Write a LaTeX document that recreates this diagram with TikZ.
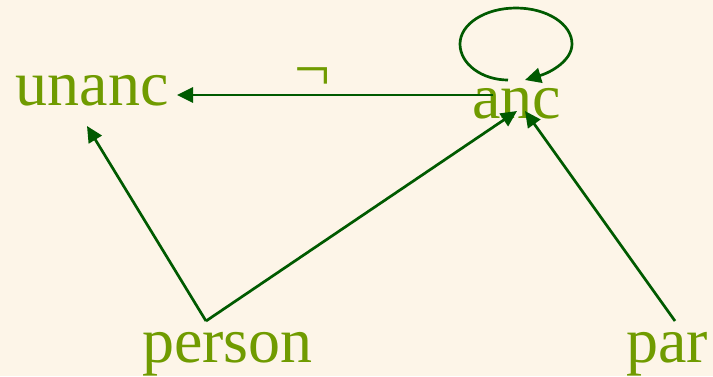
\documentclass[tikz,border=0pt]{standalone}
\usepackage{fontspec}
\setmainfont{Liberation Serif}
\usetikzlibrary{arrows.meta}
\definecolor{bgcol}{RGB}{253,245,232}
\definecolor{txtcol}{RGB}{112,155,0}
\definecolor{arrcol}{RGB}{0,90,0}
\tikzset{
  lbl/.style={inner sep=0pt, outer sep=0pt, anchor=base west, text=txtcol, font=\fontsize{64}{70}\selectfont},
  conn/.style={draw=arrcol, line width=2.7pt, -{Triangle[length=16pt,width=15pt]}},
}
\begin{document}
\begin{tikzpicture}[x=1pt,y=-1pt]
\fill[bgcol] (0,0) rectangle (713,376);
\useasboundingbox (0,0) rectangle (713,376);
\node[lbl] (unanc) at (16,105) {unanc};
\node[lbl] (anc) at (472,118) {anc};
\node[lbl] (person) at (142,362) {person};
\node[lbl] (par) at (626,362) {par};
\node[lbl] (neg) at (294,90) {¬};
% connector ends
\coordinate (unancR) at (177,95);
\coordinate (ancL) at (493,95);
\coordinate (unancB) at (87,126);
\coordinate (personT) at (206,321);
\coordinate (ancB1) at (517,111);
\coordinate (ancB2) at (525,111);
\coordinate (parT) at (675,321);
\coordinate (loopS) at (508,80);
\coordinate (loopE) at (525,80);
\draw[conn] (ancL) -- (unancR);
\draw[conn] (personT) -- (unancB);
\draw[conn] (personT) -- (ancB1);
\draw[conn] (parT) -- (ancB2);
\draw[conn] (loopS) .. controls (482,80) and (460,64) .. (460,44)
  .. controls (460,24) and (485,8) .. (516,8)
  .. controls (547,8) and (572,24) .. (572,44)
  .. controls (572,60) and (552,72) .. (loopE);
\end{tikzpicture}
\end{document}
